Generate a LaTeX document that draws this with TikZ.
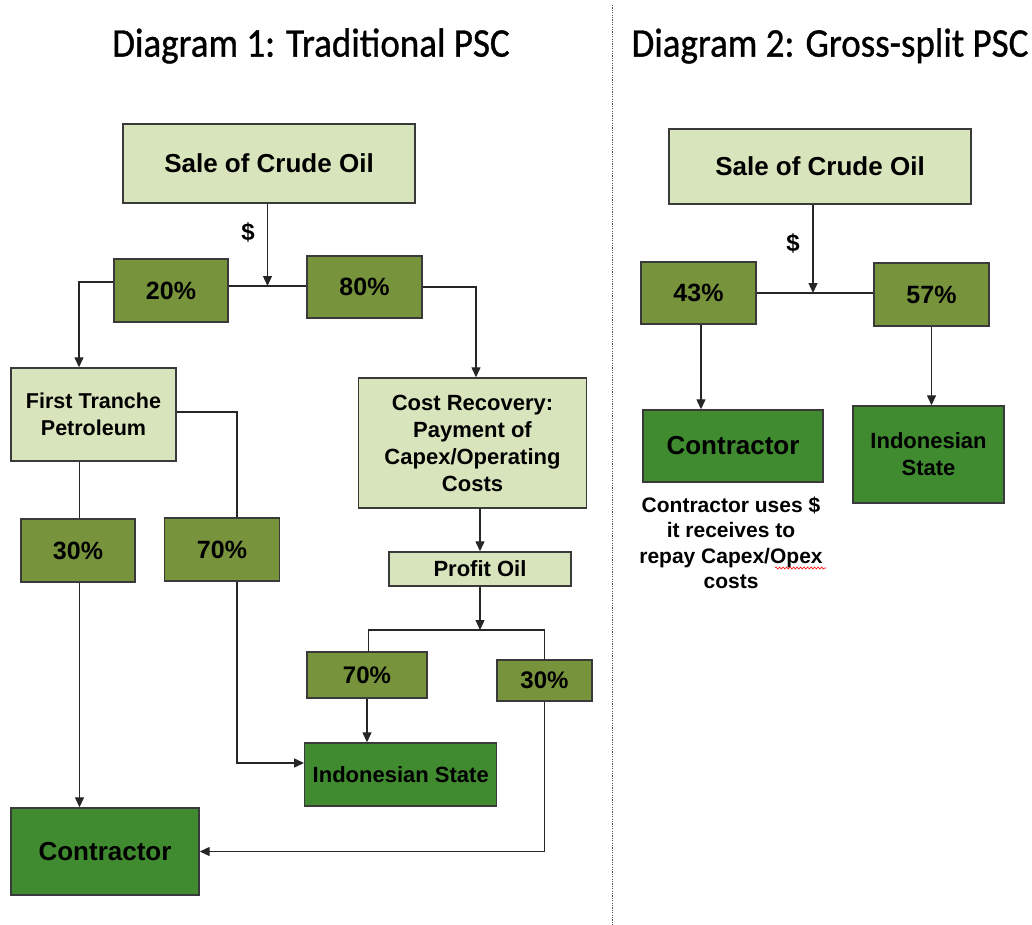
\documentclass[tikz,border=0pt]{standalone}
\usepackage{fontspec}
\setmainfont{Liberation Sans}
\newfontfamily\titlefont[BoldFont=Carlito, BoldFeatures={FakeBold=0.9}]{Carlito}
\usetikzlibrary{arrows.meta,decorations.pathmorphing}
\definecolor{lightbox}{HTML}{D8E4BC}
\definecolor{midbox}{HTML}{77933C}
\definecolor{darkbox}{HTML}{408A30}
\definecolor{edge}{HTML}{3A3A3A}
\begin{document}
\begin{tikzpicture}[x=1pt,y=-1pt,
  box/.style={draw=edge, line width=1.4pt, inner sep=0pt, align=center, font=\bfseries},
  light/.style={box, fill=lightbox},
  mid/.style={box, fill=midbox},
  dark/.style={box, fill=darkbox},
  sz/.style args={#1x#2}{minimum width=#1pt, minimum height=#2pt},
  conn/.style={draw=black!85, line width=1.3pt},
  arr/.style={conn, -{Triangle[length=10pt,width=9pt]}},
  ttl/.style={font=\titlefont\bfseries\fontsize{37}{44}\selectfont},
  dollar/.style={font=\bfseries\fontsize{24}{28}\selectfont}]
\useasboundingbox (0,0) rectangle (1032,925);

% titles and divider
\node[ttl] (t1) at (311,46) {\scalebox{1}[1.1]{Diagram 1: Traditional PSC}};
\node[ttl] (t2) at (830,46) {\scalebox{1}[1.1]{Diagram 2: Gross-split PSC}};
\draw[gray!70!black, line width=1pt, dash pattern=on 1.2pt off 1.2pt] (612,5) -- (612,925);

% ---------- Diagram 1 ----------
\node[light, sz=292x79, font=\bfseries\fontsize{26}{31}\selectfont] (sale1) at (269,163.5) {Sale of Crude Oil};
\node[dollar] (d1) at (248,232) {\$};
\coordinate (j1) at (267.5,286);
\node[mid, sz=114x63, font=\bfseries\fontsize{25}{30}\selectfont] (p20) at (171,290.5) {20\%};
\node[mid, sz=115x62, font=\bfseries\fontsize{25}{30}\selectfont] (p80) at (364.5,287) {80\%};
\node[light, sz=165x93, font=\bfseries\fontsize{21.5}{27}\selectfont] (ft) at (93.5,414.5) {First Tranche\\Petroleum};
\node[light, sz=228x130, font=\bfseries\fontsize{22}{27}\selectfont] (cr) at (472.5,443) {Cost Recovery:\\Payment of\\Capex/Operating\\Costs};
\node[mid, sz=114x63, font=\bfseries\fontsize{25}{30}\selectfont] (p30a) at (78,550.5) {30\%};
\node[mid, sz=115x63, font=\bfseries\fontsize{25}{30}\selectfont] (p70a) at (222,549.5) {70\%};
\node[light, sz=182x34, font=\bfseries\fontsize{22}{27}\selectfont] (po) at (480,569) {Profit Oil};
\coordinate (j2) at (480,630);
\node[mid, sz=120x46, font=\bfseries\fontsize{24}{29}\selectfont] (p70b) at (367,675) {70\%};
\node[mid, sz=95x41, font=\bfseries\fontsize{24}{29}\selectfont] (p30b) at (544.5,680.5) {30\%};
\node[dark, sz=192x63, font=\bfseries\fontsize{22}{27}\selectfont] (is1) at (400.75,774.5) {Indonesian State};
\node[dark, sz=188x87, font=\bfseries\fontsize{26}{31}\selectfont] (c1) at (105,851.5) {Contractor};

\draw[arr] (sale1.south -| j1) -- (j1);
\draw[conn] (p20.east |- j1) -- (p80.west |- j1);
\draw[arr] ([yshift=8.5pt]p20.west) -| ([xshift=-14.5pt]ft.north);
\draw[arr] (p80.east) -| ([xshift=3.5pt]cr.north);
\draw[conn] ([yshift=2.5pt]ft.east) -| ([xshift=15pt]p70a.north);
\draw[conn] ([xshift=1.5pt]p30a.north |- ft.south) -- ([xshift=1.5pt]p30a.north);
\draw[arr] ([xshift=15pt]p70a.south) |- ([yshift=11.5pt]is1.west);
\draw[arr] ([xshift=1.5pt]p30a.south) -- ([xshift=1.5pt]p30a.south |- c1.north);
\draw[arr] (po.north |- cr.south) -- (po.north);
\draw[arr] (po.south) -- (j2);
\draw[conn] ([xshift=1.5pt]p70b.north) |- (j2) -| (p30b.north);
\draw[arr] (p70b.south) -- (p70b.south |- is1.north);
\draw[arr] (p30b.south) |- (c1.east);

% ---------- Diagram 2 ----------
\node[light, sz=302x75, font=\bfseries\fontsize{26}{31}\selectfont] (sale2) at (820,166.5) {Sale of Crude Oil};
\node[dollar] (d2) at (793,243) {\$};
\coordinate (j3) at (813,293);
\node[mid, sz=115x62, font=\bfseries\fontsize{25}{30}\selectfont] (p43) at (698.5,293) {43\%};
\node[mid, sz=115x63, font=\bfseries\fontsize{25}{30}\selectfont] (p57) at (931.5,294.5) {57\%};
\node[dark, sz=180x72, font=\bfseries\fontsize{26}{31}\selectfont] (c2) at (733,446) {Contractor};
\node[dark, sz=151x97, font=\bfseries\fontsize{22}{27}\selectfont] (is2) at (928.5,454.5) {Indonesian\\State};
\node[align=center, inner sep=0pt, font=\bfseries\fontsize{21}{25.5}\selectfont] (cap) at (731,543) {Contractor uses \$\\it receives to\\repay Capex/Opex\\costs};
\draw[red, line width=0.6pt, decorate, decoration={snake, amplitude=1pt, segment length=3.5pt}] (775,568) -- (826,568);

\draw[arr] (sale2.south -| j3) -- (j3);
\draw[conn] (p43.east |- j3) -- (p57.west |- j3);
\draw[arr] ([xshift=2.5pt]p43.south) -- ([xshift=2.5pt]p43.south |- c2.north);
\draw[arr] (p57.south) -- (p57.south |- is2.north);
\end{tikzpicture}
\end{document}
